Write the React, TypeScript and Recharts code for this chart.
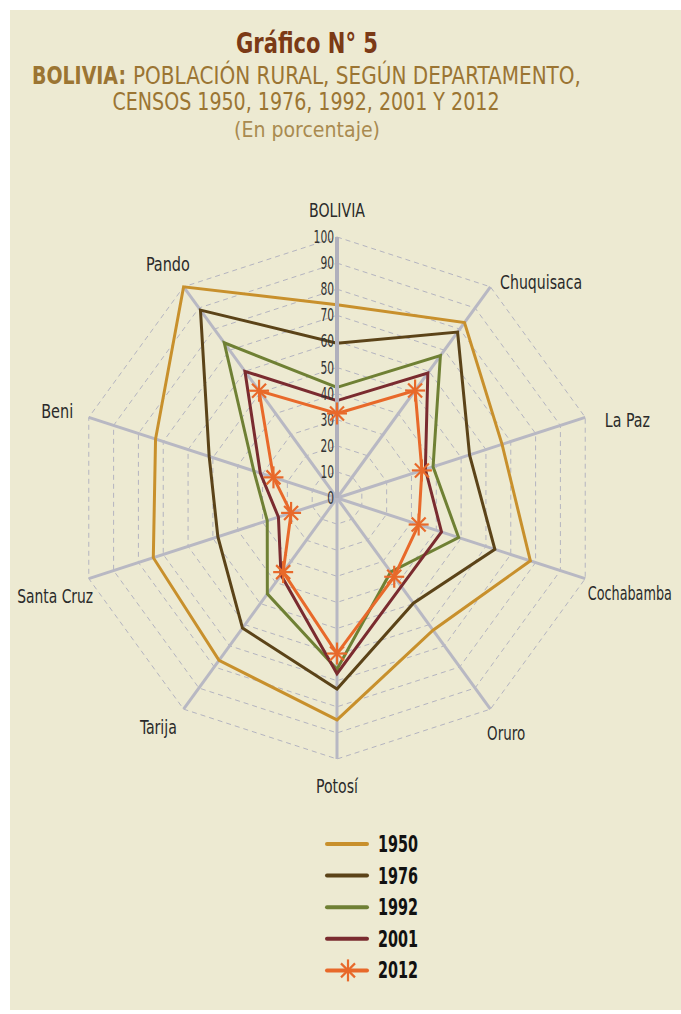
import React from 'react';
import { RadarChart, Radar, PolarGrid, PolarAngleAxis, PolarRadiusAxis, Legend } from 'recharts';

const CATEGORIES = ['BOLIVIA', 'Chuquisaca', 'La Paz', 'Cochabamba', 'Oruro', 'Potosí', 'Tarija', 'Santa Cruz', 'Beni', 'Pando'];
const Y1950 = [74.0, 83.1, 66.5, 77.9, 62.6, 85.0, 76.9, 74.0, 73.1, 100.0];
const Y1976 = [59.3, 78.6, 53.4, 63.6, 49.8, 73.2, 61.6, 48.0, 51.5, 89.0];
const Y1992 = [42.4, 67.4, 38.7, 49.0, 35.0, 65.6, 45.4, 28.1, 33.5, 73.5];
const Y2001 = [37.3, 59.2, 35.6, 42.1, 41.9, 67.3, 36.5, 23.6, 30.9, 60.0];
const Y2012 = [32.4, 50.9, 34.2, 32.9, 37.3, 59.6, 35.1, 18.5, 25.6, 50.8];
const SERIES_NAMES = ['1950', '1976', '1992', '2001', '2012'];
const SERIES_VALUES = [Y1950, Y1976, Y1992, Y2001, Y2012];
const SERIES_COLORS = ['#C8902C', '#5B4318', '#6F8034', '#7A2B2F', '#E8692A'];

const rows = CATEGORIES.map((c, i) => {
  const r: Record<string, number | string> = { category: c };
  SERIES_NAMES.forEach((s, k) => { r['y' + s] = SERIES_VALUES[k][i]; });
  return r;
});

const FONT = "'Liberation Sans Narrow', 'Arial Narrow', 'DejaVu Sans Condensed', 'DejaVu Sans', sans-serif";
const CX = 337;
const CY = 498;
const OUTER = 261;

// label placement (layout only): anchor, offsets from base point at radius OUTER+8, rendered width
const LABEL_LAYOUT: { anchor: 'start' | 'middle' | 'end'; dx: number; dy: number; w: number }[] = [
  { anchor: 'middle', dx: 0, dy: -12, w: 56 },
  { anchor: 'start', dx: 5, dy: 9, w: 82 },
  { anchor: 'start', dx: 12, dy: 12, w: 45 },
  { anchor: 'end', dx: 79, dy: 19, w: 84 },
  { anchor: 'start', dx: -8, dy: 24, w: 38 },
  { anchor: 'middle', dx: 0, dy: 26, w: 42 },
  { anchor: 'end', dx: -2, dy: 18, w: 37 },
  { anchor: 'end', dx: 12, dy: 22, w: 76 },
  { anchor: 'end', dx: -8, dy: 3, w: 32 },
  { anchor: 'middle', dx: -11, dy: -9, w: 44 },
];

const AngleTick = (props: any) => {
  const value = props.payload?.value;
  const i = CATEGORIES.indexOf(value);
  const ang = ((90 - i * 36) * Math.PI) / 180;
  const bx = CX + (OUTER + 8) * Math.cos(ang);
  const by = CY - (OUTER + 8) * Math.sin(ang);
  const l = LABEL_LAYOUT[i] || { anchor: 'middle', dx: 0, dy: 0, w: 40 };
  return (
    <text
      x={bx + l.dx}
      y={by + l.dy}
      textAnchor={l.anchor}
      fontFamily={FONT}
      fontSize={20}
      fill="#2a2a2a"
      textLength={l.w}
      lengthAdjust="spacingAndGlyphs"
    >
      {value}
    </text>
  );
};

const RadiusTick = (props: any) => {
  const label = String(props.payload?.value ?? '');
  return (
    <text
      x={props.x - 3}
      y={props.y + 6}
      textAnchor="end"
      fontFamily={FONT}
      fontSize={17}
      fill="#333"
      textLength={label.length * 6.8}
      lengthAdjust="spacingAndGlyphs"
    >
      {label}
    </text>
  );
};

const Star = ({ cx, cy, color }: { cx: number; cy: number; color: string }) => (
  <g stroke={color} strokeWidth={2.2} strokeLinecap="butt">
    <line x1={cx - 10} y1={cy} x2={cx + 10} y2={cy} />
    <line x1={cx} y1={cy - 11} x2={cx} y2={cy + 11} />
    <line x1={cx - 7} y1={cy - 7} x2={cx + 7} y2={cy + 7} />
    <line x1={cx - 7} y1={cy + 7} x2={cx + 7} y2={cy - 7} />
  </g>
);

const StarDot = (props: any) => {
  if (props.cx == null || props.cy == null) return <g />;
  return <Star key={`s-${props.index}`} cx={props.cx} cy={props.cy} color={SERIES_COLORS[4]} />;
};

const LegendContent = () => (
  <svg width={140} height={160} style={{ display: 'block' }}>
    {SERIES_NAMES.map((s, i) => {
      const y = 16 + i * 31.6;
      return (
        <g key={s}>
          <line x1={7} y1={y} x2={47} y2={y} stroke={SERIES_COLORS[i]} strokeWidth={4} strokeLinecap="round" />
          {i === 4 && <Star cx={28} cy={y} color={SERIES_COLORS[i]} />}
          <text
            x={58}
            y={y + 8}
            fontFamily={FONT}
            fontWeight="bold"
            fontSize={23}
            fill="#111"
            textLength={40}
            lengthAdjust="spacingAndGlyphs"
          >
            {s}
          </text>
        </g>
      );
    })}
  </svg>
);

export default function App() {
  return (
    <div style={{ position: 'absolute', left: 0, top: 0, width: 681, height: 1014, background: '#ffffff' }}>
      <div style={{ position: 'absolute', left: 10, top: 10, width: 671, height: 1000, background: '#EDEAD2' }} />
      <svg width={681} height={160} style={{ position: 'absolute', left: 0, top: 0 }}>
        <text x={307} y={53} textAnchor="middle" fontFamily={FONT} fontWeight="bold" fontSize={28} fill="#7B3A16" textLength={142} lengthAdjust="spacingAndGlyphs">
          Gráfico N° 5
        </text>
        <text x={32} y={84} fontFamily={FONT} fontWeight="bold" fontSize={25} fill="#9B7533" textLength={94} lengthAdjust="spacingAndGlyphs">
          BOLIVIA:
        </text>
        <text x={133} y={84} fontFamily={FONT} fontSize={25} fill="#9B7533" textLength={448} lengthAdjust="spacingAndGlyphs">
          POBLACIÓN RURAL, SEGÚN DEPARTAMENTO,
        </text>
        <text x={306} y={110} textAnchor="middle" fontFamily={FONT} fontSize={25} fill="#9B7533" textLength={387} lengthAdjust="spacingAndGlyphs">
          CENSOS 1950, 1976, 1992, 2001 Y 2012
        </text>
        <text x={307} y={137} textAnchor="middle" fontFamily={FONT} fontSize={22} fill="#A98A50" textLength={146} lengthAdjust="spacingAndGlyphs">
          (En porcentaje)
        </text>
      </svg>
      <div style={{ position: 'absolute', left: 0, top: 0 }}>
        <RadarChart width={681} height={1014} cx={CX} cy={CY} outerRadius={OUTER} data={rows} margin={{ top: 0, right: 0, bottom: 0, left: 0 }}>
          <PolarGrid gridType="polygon" radialLines={false} stroke="#B4B4C0" strokeDasharray="5 4" strokeWidth={1} />
          <PolarGrid gridType="polygon" radialLines={true} polarRadius={[0.01]} stroke="#B8B8C3" strokeWidth={3} />
          <PolarAngleAxis dataKey="category" tick={AngleTick} tickLine={false} axisLine={false} />
          <PolarRadiusAxis
            angle={90}
            domain={[0, 100]}
            tickCount={11}
            tick={RadiusTick}
            tickLine={false}
            axisLine={{ stroke: '#B0B0BC', strokeWidth: 4 }}
          />
          {SERIES_NAMES.map((s, i) => (
            <Radar
              key={s}
              name={s}
              dataKey={'y' + s}
              stroke={SERIES_COLORS[i]}
              strokeWidth={3}
              fill="none"
              fillOpacity={0}
              dot={i === 4 ? StarDot : false}
              isAnimationActive={false}
            />
          ))}
          <Legend content={LegendContent} wrapperStyle={{ position: 'absolute', left: 320, top: 828, width: 140, height: 160 }} />
        </RadarChart>
      </div>
    </div>
  );
}
